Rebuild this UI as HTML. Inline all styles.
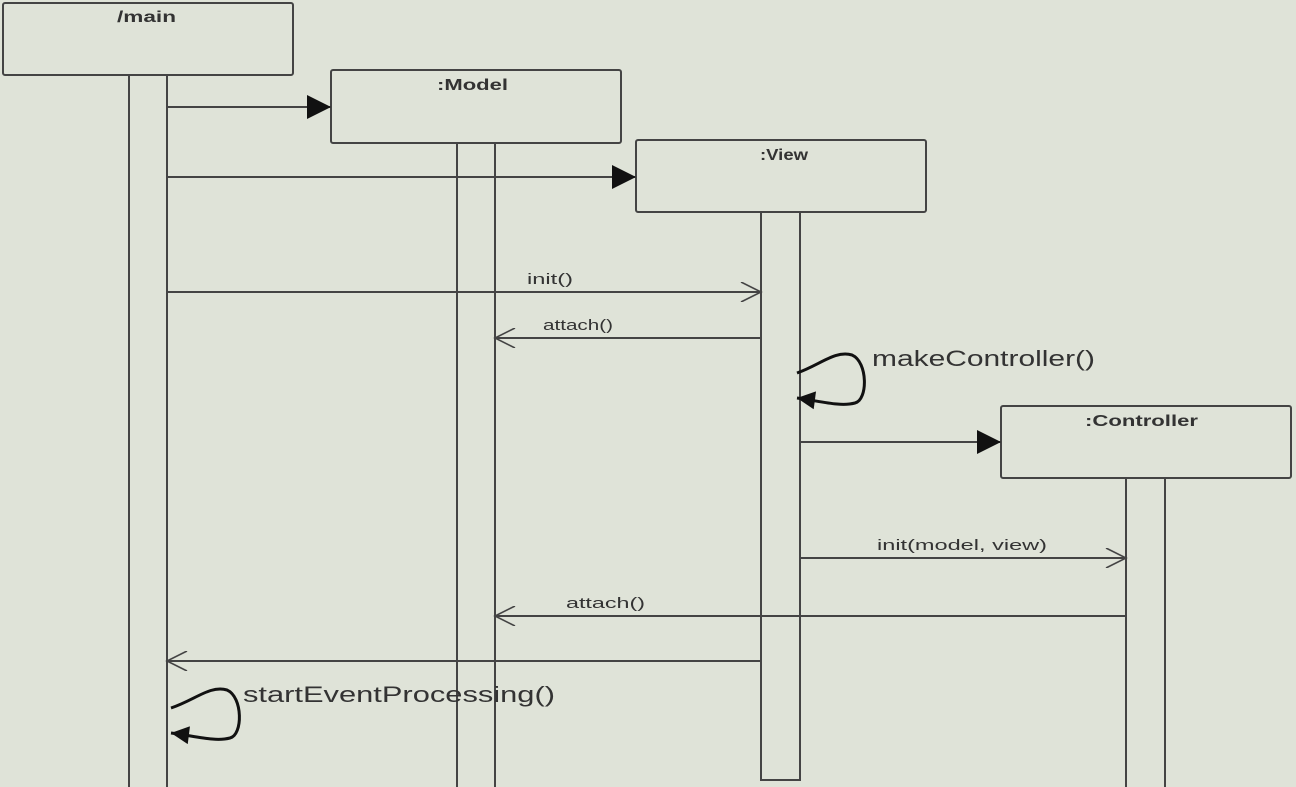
<!DOCTYPE html>
<html><head><meta charset="utf-8"><style>
html,body{margin:0;padding:0;background:#dfe3d8;}
svg{display:block;}
text{font-family:"Liberation Sans",sans-serif;fill:#333;}
</style></head><body>
<svg width="1296" height="787" viewBox="0 0 1296 787" xmlns="http://www.w3.org/2000/svg">
<defs>
<marker id="f" viewBox="0 0 10 10" refX="10" refY="5" markerWidth="24" markerHeight="24" markerUnits="userSpaceOnUse" orient="auto"><path d="M0,0 L10,5 L0,10 z" fill="#111"/></marker>
<marker id="o" viewBox="0 0 10 10" refX="10" refY="5" markerWidth="26" markerHeight="20" markerUnits="userSpaceOnUse" orient="auto"><path d="M0,0 L10,5 L0,10" fill="none" stroke="#444" stroke-width="0.8"/></marker>
<marker id="s" viewBox="0 0 10 10" refX="10" refY="5" markerWidth="22" markerHeight="18" markerUnits="userSpaceOnUse" orient="auto"><path d="M0,0 L10,5 L0,10 z" fill="#111"/></marker>
</defs>
<rect x="0" y="0" width="1296" height="787" fill="#dfe3d8"/>
<g fill="none" stroke="#444" stroke-width="2">
<rect x="3" y="3" width="290" height="72" rx="2"/>
<rect x="331" y="70" width="290" height="73" rx="2"/>
<rect x="636" y="140" width="290" height="72" rx="2"/>
<rect x="1001" y="406" width="290" height="72" rx="2"/>
<path d="M129,75 V787 M167,75 V787"/>
<path d="M457,143 V787 M495,143 V787"/>
<rect x="761" y="212" width="39" height="568"/>
<path d="M1126,478 V787 M1165,478 V787"/>
</g>
<g stroke="#444" stroke-width="2" fill="none">
<line x1="167" y1="107" x2="331" y2="107" marker-end="url(#f)"/>
<line x1="167" y1="177" x2="636" y2="177" marker-end="url(#f)"/>
<line x1="800" y1="442" x2="1001" y2="442" marker-end="url(#f)"/>
<line x1="167" y1="292" x2="761" y2="292" marker-end="url(#o)"/>
<line x1="761" y1="338" x2="495" y2="338" marker-end="url(#o)"/>
<line x1="800" y1="558" x2="1126" y2="558" marker-end="url(#o)"/>
<line x1="1126" y1="616" x2="495" y2="616" marker-end="url(#o)"/>
<line x1="761" y1="661" x2="167" y2="661" marker-end="url(#o)"/>
</g>
<g stroke="#111" stroke-width="3" fill="none">
<path d="M797,373 C820,365 835,350 852,355 C868,362 868,400 855,403 C840,407 820,401 797,398" marker-end="url(#s)"/>
<path d="M171,708 C195,700 210,685 227,690 C243,697 243,735 230,738 C215,742 195,736 171,733" marker-end="url(#s)"/>
</g>
<g font-weight="bold" font-size="16" lengthAdjust="spacingAndGlyphs">
<text x="117" y="22" textLength="59" lengthAdjust="spacingAndGlyphs">/main</text>
<text x="437" y="90" textLength="71" lengthAdjust="spacingAndGlyphs">:Model</text>
<text x="760" y="160" textLength="48" lengthAdjust="spacingAndGlyphs">:View</text>
<text x="1085" y="426" textLength="113" lengthAdjust="spacingAndGlyphs">:Controller</text>
</g>
<g font-size="15">
<text x="527" y="284" textLength="46" lengthAdjust="spacingAndGlyphs">init()</text>
<text x="543" y="330" textLength="70" lengthAdjust="spacingAndGlyphs">attach()</text>
<text x="877" y="550" textLength="170" lengthAdjust="spacingAndGlyphs">init(model, view)</text>
<text x="566" y="608" textLength="79" lengthAdjust="spacingAndGlyphs">attach()</text>
</g>
<g font-size="22">
<text x="872" y="366" textLength="223" lengthAdjust="spacingAndGlyphs">makeController()</text>
<text x="243" y="702" textLength="312" lengthAdjust="spacingAndGlyphs">startEventProcessing()</text>
</g>
</svg>
</body></html>
